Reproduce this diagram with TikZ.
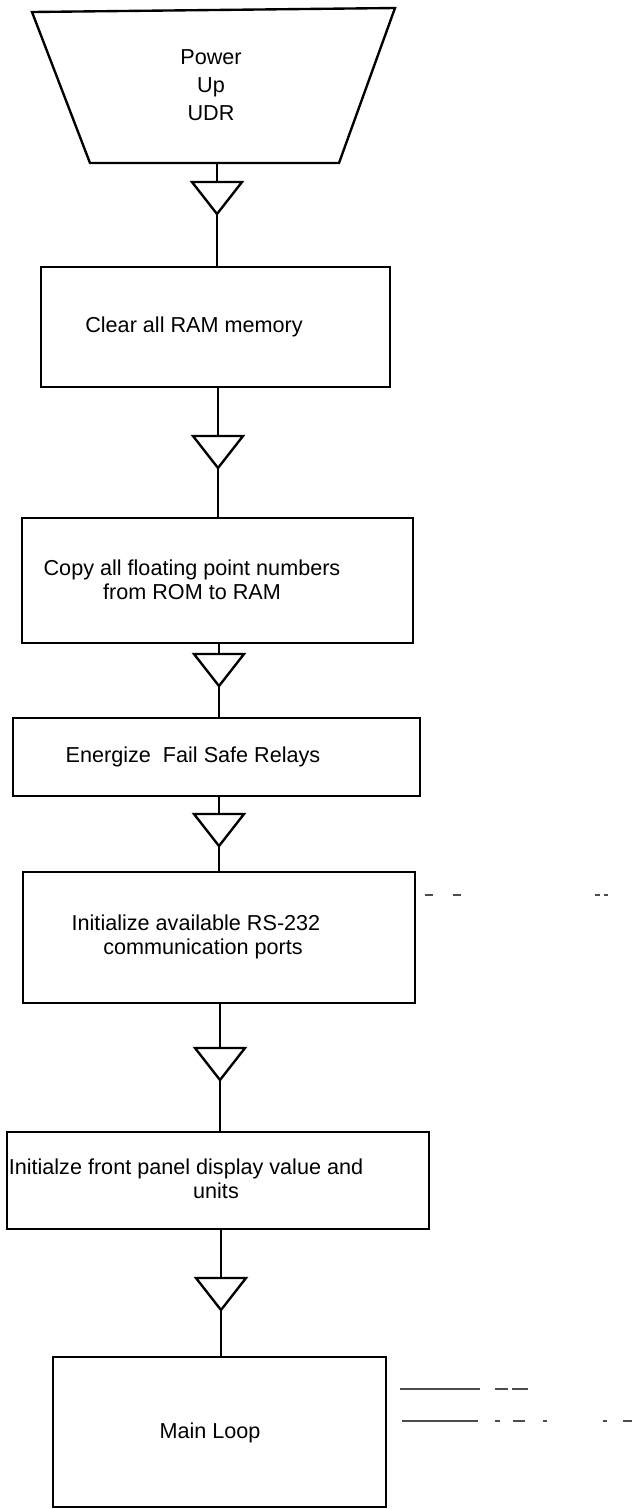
\documentclass[tikz,border=0pt]{standalone}
\usepackage{fontspec}
\setmainfont{Liberation Sans}
\usetikzlibrary{positioning}
\tikzset{
  every picture/.style={line width=1.35pt},
  box/.style={draw, rectangle, inner sep=0pt},
  txt/.style={font=\fontsize{12.3pt}{13.6pt}\selectfont, align=center, inner sep=0pt},
  valve/.style={draw, line join=miter},
  stub/.style={line width=0.6pt, draw=black!70},
}

\begin{document}
\begin{tikzpicture}[x=0.02cm, y=-0.02cm]
  \useasboundingbox (0,0) rectangle (632,1509);
  % start block
  \draw (32,12) -- (395,8) -- (339,163) -- (90,163) -- cycle;
  \coordinate (start) at (217,163);
  \node[txt, font=\fontsize{12.3pt}{16pt}\selectfont] (power) at (211,85) {Power\\Up\\UDR};
  % process boxes
  \node[box, minimum width=6.98cm, minimum height=2.4cm] (clear) at (215.5,327) {};
  \node[txt] (clear-t) at (194,327) {Clear all RAM memory};
  \node[box, minimum width=7.82cm, minimum height=2.5cm] (copy) at (217.5,580.5) {};
  \node[txt] (copy-t) at (192,580) {Copy all floating point numbers\\from ROM to RAM};
  \node[box, minimum width=8.14cm, minimum height=1.56cm] (relays) at (216.5,757) {};
  \node[txt] (relays-t) at (193,757) {Energize~ Fail Safe Relays};
  \node[box, minimum width=7.84cm, minimum height=2.62cm] (ports) at (219,937.5) {};
  \node[txt] (ports-t) at (196,937) {Initialize available RS-232\\\hspace*{0.28cm}communication ports};
  \node[box, minimum width=8.44cm, minimum height=1.94cm] (panel) at (218,1180.5) {};
  \node[txt] (panel-t) at (186,1179) {Initialze front panel display value and\\\hspace*{1.2cm}units};
  \node[box, minimum width=6.66cm, minimum height=3cm] (mainloop) at (219.5,1432) {};
  \node[txt] (mainloop-t) at (210,1433) {Main Loop};
  % flow markers
  \foreach \n/\xv/\yv in {1/217/182, 2/218/436, 3/219/654, 4/219/814, 5/220/1048, 6/221/1278} {
    \draw[valve] (\xv-25,\yv) -- (\xv+25,\yv) -- (\xv,\yv+32) -- cycle;
    \coordinate (v\n) at (\xv,\yv);
    \coordinate (w\n) at (\xv,\yv+32);
  }
  % connectors
  \draw (start) -- (v1);
  \draw (w1) -- (w1 |- clear.north);
  \draw (clear.south -| v2) -- (v2);
  \draw (w2) -- (w2 |- copy.north);
  \draw (copy.south -| v3) -- (v3);
  \draw (w3) -- (w3 |- relays.north);
  \draw (relays.south -| v4) -- (v4);
  \draw (w4) -- (w4 |- ports.north);
  \draw (ports.south -| v5) -- (v5);
  \draw (w5) -- (w5 |- panel.north);
  \draw (panel.south -| v6) -- (v6);
  \draw (w6) -- (w6 |- mainloop.north);
  % faint stubs on the right
  \foreach \a/\b in {425/433, 453/461, 595/600, 604/608} \draw[stub] (\a,895) -- (\b,895);
  \foreach \a/\b in {400/480, 495/508, 512/528} \draw[stub] (\a,1389) -- (\b,1389);
  \foreach \a/\b in {402/478, 495/500, 513/525, 543/547, 603/607, 623/632} \draw[stub] (\a,1421) -- (\b,1421);
\end{tikzpicture}
\end{document}
